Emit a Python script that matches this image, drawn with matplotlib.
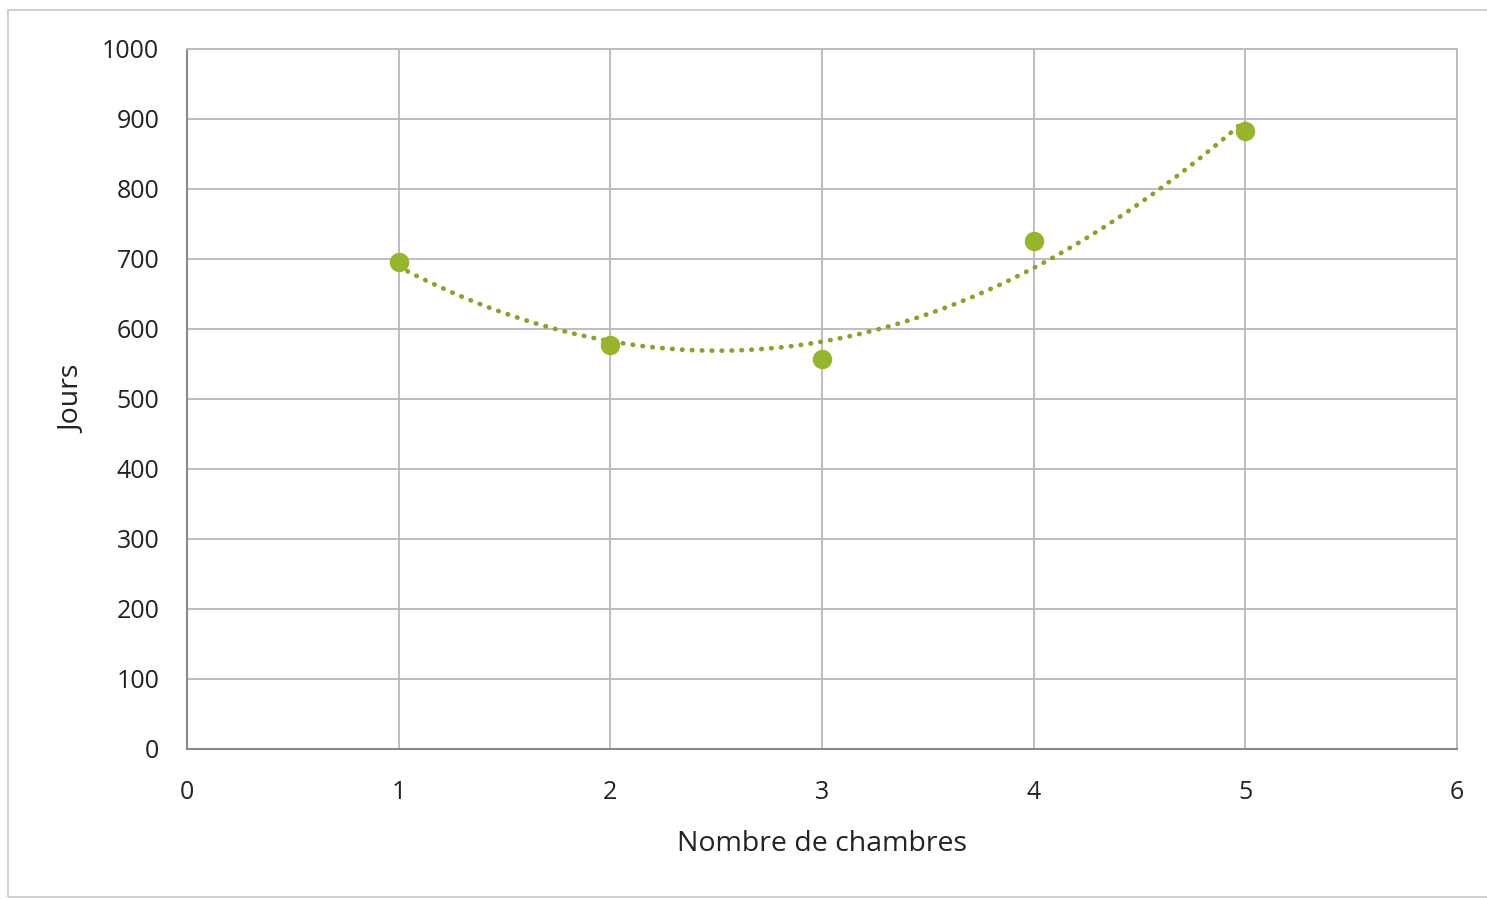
import numpy as np
import matplotlib.pyplot as plt
from matplotlib.patches import Rectangle

# nombre de chambres vs jours
chambres = [1, 2, 3, 4, 5]
jours = [696, 577, 557, 726, 883]

GREEN = "#97b52a"
DOTS = "#86a525"
GRID = "#b8b8c2"

plt.rcParams['font.family'] = ['Open Sans', 'DejaVu Sans']

fig = plt.figure(figsize=(14.87, 8.99), dpi=100)
ax = fig.add_axes([187/1487, 1 - 749/899, (1457-187)/1487, (749-49)/899])

# outer chart frame
fig.patches.append(Rectangle((8/1487, 2/899), 1.0, 887/899, transform=fig.transFigure,
                             fill=False, edgecolor="#c8c8c8", lw=1.2))

# 2nd order trend line
coef = np.polyfit(chambres, jours, 2)
xs = np.linspace(chambres[0], chambres[-1], 200)
ax.plot(xs, np.polyval(coef, xs), color=DOTS, lw=3.4, ls=(0, (0.1, 2.0)),
        dash_capstyle='round', zorder=3)

ax.plot(chambres, jours, 'o', color=GREEN, ms=13, mec=GREEN, zorder=4)

ax.set_xlim(0, 6)
ax.set_ylim(0, 1000)
ax.set_xticks(range(0, 7))
ax.set_yticks(range(0, 1001, 100))
ax.grid(True, color=GRID, lw=1.3)
ax.set_axisbelow(True)

for s in ["top", "right"]:
    ax.spines[s].set_color(GRID)
    ax.spines[s].set_linewidth(1.3)
for s in ["left", "bottom"]:
    ax.spines[s].set_color("#8a8a8a")
    ax.spines[s].set_linewidth(1.5)

ax.tick_params(length=0, labelsize=18, colors="#222222")
ax.tick_params(axis='x', pad=22)
ax.tick_params(axis='y', pad=20)
ax.set_xlabel("Nombre de chambres", fontsize=20.5, color="#222222", labelpad=18)
ax.set_ylabel("Jours", fontsize=20.5, color="#222222", labelpad=11)

fig.savefig("out.png", dpi=100)
